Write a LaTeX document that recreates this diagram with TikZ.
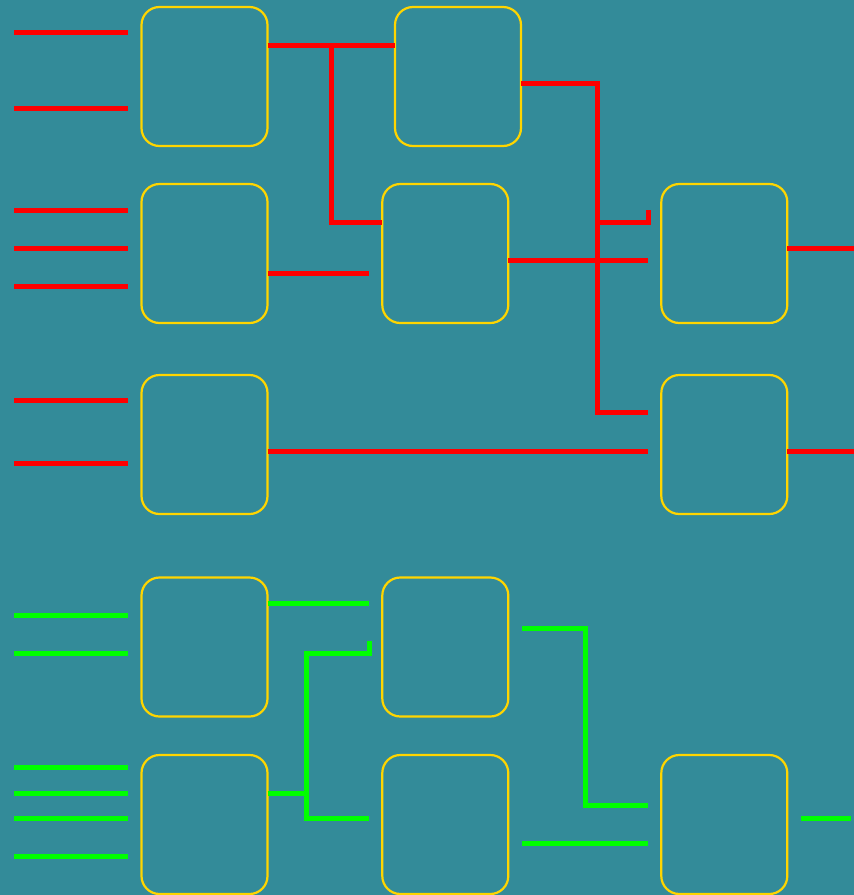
\documentclass[tikz,border=0pt]{standalone}
\definecolor{bg}{HTML}{338B99}
\definecolor{boxc}{HTML}{FFD500}
\definecolor{wr}{HTML}{FF0000}
\definecolor{wg}{HTML}{00FF00}
\begin{document}
\begin{tikzpicture}[x=1pt,y=-1pt,
  blk/.style={draw=boxc,line width=2.2pt,rounded corners=18pt,minimum width=126pt,minimum height=139pt,inner sep=0pt,outer sep=0pt},
  rw/.style={draw=wr,line width=5pt},
  gw/.style={draw=wg,line width=5pt}]
\fill[bg] (0,0) rectangle (854,895);
\useasboundingbox (0,0) rectangle (854,895);
% boxes
\node[blk] (A1) at (204.5,76.5) {};
\node[blk] (A2) at (204.5,253.5) {};
\node[blk] (A3) at (204.5,444.5) {};
\node[blk] (G1) at (204.5,647) {};
\node[blk] (G2) at (204.5,824.5) {};
\node[blk] (B1) at (458,76.5) {};
\node[blk] (B2) at (445.3,253.5) {};
\node[blk] (C1) at (724.3,253.5) {};
\node[blk] (C2) at (724.3,444.5) {};
\node[blk] (H1) at (445.3,647) {};
\node[blk] (H2) at (445.3,824.5) {};
\node[blk] (K) at (724.3,824.5) {};
% red inputs
\foreach \y in {32,108,210,248,286,400,463} \draw[rw] (14,\y) -- (128,\y);
% red connectors
\coordinate (r1) at (331,45);
\draw[rw] (A1.east |- r1) -- (B1.west |- r1);
\draw[rw] (r1) -- (331,222) -- (B2.west |- 0,222);
\draw[rw] (A2.east |- 0,273) -- (369,273);
\coordinate (r2) at (597,83);
\draw[rw] (B1.east |- r2) -- (r2) -- (597,412) -- (648,412);
\draw[rw] (597,222) -- (648,222) -- (648,210);
\draw[rw] (B2.east |- 0,260) -- (648,260);
\draw[rw] (A3.east |- 0,451) -- (648,451);
\draw[rw] (C1.east |- 0,248) -- (854,248);
\draw[rw] (C2.east |- 0,451) -- (854,451);
% green inputs
\foreach \y in {615,653,767.5,793,818,856} \draw[gw] (14,\y) -- (128,\y);
% green connectors
\draw[gw] (G1.east |- 0,603) -- (369,603);
\coordinate (g1) at (306,793);
\draw[gw] (G2.east |- g1) -- (g1);
\draw[gw] (369,641) -- (369,653) -- (306,653) -- (306,818) -- (369,818);
\draw[gw] (522,628) -- (585,628) -- (585,805.5) -- (648,805.5);
\draw[gw] (522,843.5) -- (648,843.5);
\draw[gw] (801,818) -- (851,818);
\end{tikzpicture}
\end{document}
